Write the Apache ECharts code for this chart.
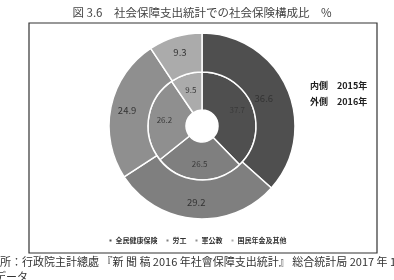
<!DOCTYPE html>
<html><head><meta charset="utf-8">
<script src="https://cdn.jsdelivr.net/npm/echarts@6/dist/echarts.min.js"></script>
<style>html,body{margin:0;padding:0;background:#fff}#c{width:394px;height:280px}</style>
</head><body><div id="c"></div>
<script>
const categories = ['全民健康保険', '労工', '軍公教', '国民年金及其他'];
const values2015 = [37.7, 26.5, 26.2, 9.5];
const values2016 = [36.6, 29.2, 24.9, 9.3];
const colors = ['#4f4f4f', '#7f7f7f', '#8f8f8f', '#ababab'];
const titleText = '図 3.6　社会保障支出統計での社会保険構成比　%';
const noteInner = '内側　2015年';
const noteOuter = '外側　2016年';
const sourceLine1 = '出所：行政院主計總處 『新 聞 稿 2016 年社會保障支出統計』 総合統計局 2017 年 12 月';
const sourceLine2 = 'データ';

const font = '"Noto Sans CJK JP", sans-serif';
const chart = echarts.init(document.getElementById('c'));
function mk(vals){ return categories.map((n,i)=>({name:n, value:vals[i]})); }
chart.setOption({
  animation: false,
  color: colors,
  legend: {
    data: categories, bottom: 31, left: 'center',
    icon: 'rect', itemWidth: 4, itemHeight: 4, itemGap: 7,
    textStyle: { fontSize: 7, color: '#333', fontFamily: font, fontWeight: 'bold', padding: [0,0,0,-2] }
  },
  graphic: [
    { type: 'rect', shape: { x: 29, y: 23, width: 348, height: 230 }, style: { fill: 'none', stroke: '#333', lineWidth: 1.2 }, z: 0 },
    { type: 'text', x: 202, y: 13, style: { text: titleText, fontSize: 11.5, fill: '#444', fontFamily: font, textAlign: 'center', textVerticalAlign: 'middle' } },
    { type: 'text', x: 310, y: 86, style: { text: noteInner, fontSize: 9, fill: '#222', fontFamily: font, fontWeight: 'bold', textVerticalAlign: 'middle' } },
    { type: 'text', x: 310, y: 102, style: { text: noteOuter, fontSize: 9, fill: '#222', fontFamily: font, fontWeight: 'bold', textVerticalAlign: 'middle' } },
    { type: 'text', x: -11, y: 262, style: { text: sourceLine1, fontSize: 11, fill: '#333', fontFamily: font, textVerticalAlign: 'middle' } },
    { type: 'text', x: -5, y: 277, style: { text: sourceLine2, fontSize: 11, fill: '#333', fontFamily: font, textVerticalAlign: 'middle' } }
  ],
  series: [
    {
      type: 'pie', center: [202, 126], radius: [16, 54], startAngle: 90,
      data: mk(values2015),
      itemStyle: { borderColor: '#fff', borderWidth: 1.5 },
      label: { position: 'inside', formatter: '{c}', fontSize: 8, color: '#3a3a3a', fontFamily: font },
      labelLine: { show: false }, emphasis: { disabled: true },
      labelLayout: function (p) { return p.dataIndex === 0 ? { dy: -2 } : {}; }
    },
    {
      type: 'pie', center: [202, 126], radius: [54, 93], startAngle: 90,
      data: mk(values2016),
      itemStyle: { borderColor: '#fff', borderWidth: 1.5 },
      label: { position: 'inside', formatter: '{c}', fontSize: 9.5, color: '#333', fontFamily: font },
      labelLine: { show: false }, emphasis: { disabled: true },
      labelLayout: function (p) { return p.dataIndex === 0 ? { dx: -8, dy: 4 } : {}; }
    }
  ]
});
</script></body></html>
